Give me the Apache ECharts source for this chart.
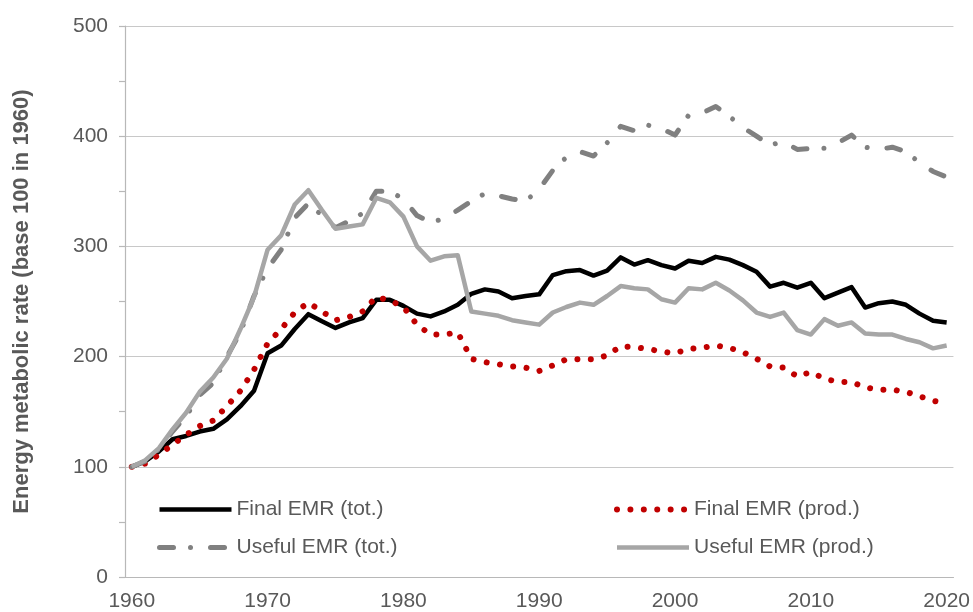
<!DOCTYPE html>
<html>
<head>
<meta charset="utf-8">
<script src="https://cdn.jsdelivr.net/npm/echarts/dist/echarts.min.js"></script>
<style>
  html, body { margin: 0; padding: 0; background: #fff; }
  #holder { width: 973px; height: 612px; }
</style>
</head>
<body>
<div id="holder"></div>
<script>
var years = []
for (var y = 1960; y <= 2020; y++) years.push(String(y))

// Final EMR (tot.)
var finalTot = [100, 105, 114, 125, 128, 132, 134.5, 143, 155, 169,
  203, 210, 225, 238.5, 232, 226, 231, 235, 251.5, 251.5,
  246, 239, 236.5, 241, 247, 257, 261, 259, 253, 255,
  256.5, 274, 277.5, 278.5, 273.5, 278, 290, 283.5, 287.5, 283,
  280, 287, 285, 290.5, 288, 283, 277, 263.5, 267, 262.5,
  267, 253, 258, 263, 244.5, 248.5, 250, 247, 239, 232.5,
  231]

// Final EMR (prod.)
var finalProd = [100, 103, 111, 120, 129, 137, 142, 155, 169, 188,
  212, 225, 240, 249, 241, 233, 236, 241, 254, 251,
  245, 229, 220, 220, 222, 198, 195, 193, 191, 190,
  187, 192, 197.5, 197.5, 197.5, 201, 209.5, 208.5, 207, 204.5,
  203, 207, 208, 210, 208, 204, 198, 191, 190, 182,
  186, 180, 177, 177, 172, 170, 170, 168, 164, 160,
  157]

// Useful EMR (tot.)
var usefulTot = [100, 105, 116, 132, 146, 165, 176, 200, 222, 255,
  280, 297, 326, 339, 328, 317, 323, 330, 350, 350,
  343, 328, 322, 325, 333, 341, 348, 346, 343, 341,
  352, 369, 381, 386, 382, 394, 409, 405, 410, 407,
  401, 419, 421, 427, 418, 408, 400, 392, 395, 388,
  389, 389, 394, 401, 390, 388, 390, 386, 376, 368,
  363]

// Useful EMR (prod.)
var usefulProd = [100, 106, 117, 134, 149, 168, 181, 198, 225, 254,
  297, 310, 338, 351, 333, 316, 318, 320, 344, 340,
  327, 300, 287, 291, 292, 241, 239, 237, 233, 231,
  229, 240, 245, 249, 247, 255, 264, 262, 261, 252,
  249, 262, 261, 267, 260, 251, 240, 236, 240, 224,
  220, 234, 228, 231, 221, 220, 220, 216, 213, 207.5,
  210]

var font = '"Liberation Sans", Arial, sans-serif'
var txt = '#595959'
var axisCol = '#B8B8B8'

var myChart = echarts.init(document.getElementById('holder'))

var legendText = { fontSize: 21, color: txt, fontFamily: font }
// no marker in the legend, only the line
var noMark = { opacity: 0 }

var option = {
  animation: false,
  grid: { left: 125, right: 18, top: 26, bottom: 35 },
  legend: [
    {
      left: 157, top: 499, orient: 'vertical', padding: 0,
      itemWidth: 72, itemHeight: 14, itemGap: 17,
      textStyle: legendText,
      data: [
        { name: 'Final EMR (tot.)', itemStyle: noMark, lineStyle: { width: 4.5 } },
        { name: 'Useful EMR (tot.)', itemStyle: noMark, lineStyle: { width: 5 } }
      ]
    },
    {
      left: 614, top: 499, orient: 'vertical', padding: 0,
      itemWidth: 72, itemHeight: 14, itemGap: 17,
      textStyle: legendText,
      data: [
        { name: 'Final EMR (prod.)', itemStyle: noMark, lineStyle: { width: 6 } },
        { name: 'Useful EMR (prod.)', itemStyle: noMark, lineStyle: { width: 4.5 } }
      ]
    }
  ],
  xAxis: {
    type: 'category',
    data: years,
    boundaryGap: true,
    axisLine: { lineStyle: { color: axisCol, width: 1.2 } },
    axisTick: { interval: 4, length: 6, lineStyle: { color: axisCol, width: 1.2 } },
    axisLabel: { interval: 9, fontSize: 21, color: txt, fontFamily: font, margin: 14 }
  },
  yAxis: {
    type: 'value',
    min: 0, max: 500, interval: 100,
    name: 'Energy metabolic rate (base 100 in 1960)',
    nameLocation: 'middle',
    nameGap: 92,
    nameTextStyle: { fontSize: 22, fontWeight: 'bold', color: txt, fontFamily: font },
    axisLine: { show: true, lineStyle: { color: axisCol, width: 1.2 } },
    axisTick: { show: true, length: 6, lineStyle: { color: axisCol, width: 1.2 } },
    minorTick: { show: true, splitNumber: 2, length: 6, lineStyle: { color: axisCol, width: 1.2 } },
    axisLabel: { fontSize: 21, color: txt, fontFamily: font, margin: 17 },
    splitLine: { lineStyle: { color: '#C8C8C8', width: 1.2 } }
  },
  series: [
    {
      name: 'Final EMR (tot.)', type: 'line', data: finalTot, symbol: 'none',
      itemStyle: { color: '#000000' },
      lineStyle: { color: '#000000', width: 4.5, join: 'round' }
    },
    {
      name: 'Final EMR (prod.)', type: 'line', data: finalProd, symbol: 'none',
      itemStyle: { color: '#C00000' },
      lineStyle: { color: '#C00000', width: 6, type: [0.01, 13.4], cap: 'round', join: 'round' }
    },
    {
      name: 'Useful EMR (tot.)', type: 'line', data: usefulTot, symbol: 'none',
      itemStyle: { color: '#808080' },
      lineStyle: { color: '#808080', width: 5, type: [14, 17, 0.01, 20], cap: 'round', join: 'round' }
    },
    {
      name: 'Useful EMR (prod.)', type: 'line', data: usefulProd, symbol: 'none',
      itemStyle: { color: '#A6A6A6' },
      lineStyle: { color: '#A6A6A6', width: 4.5, join: 'round' }
    }
  ]
}

myChart.setOption(option)
</script>
</body>
</html>
